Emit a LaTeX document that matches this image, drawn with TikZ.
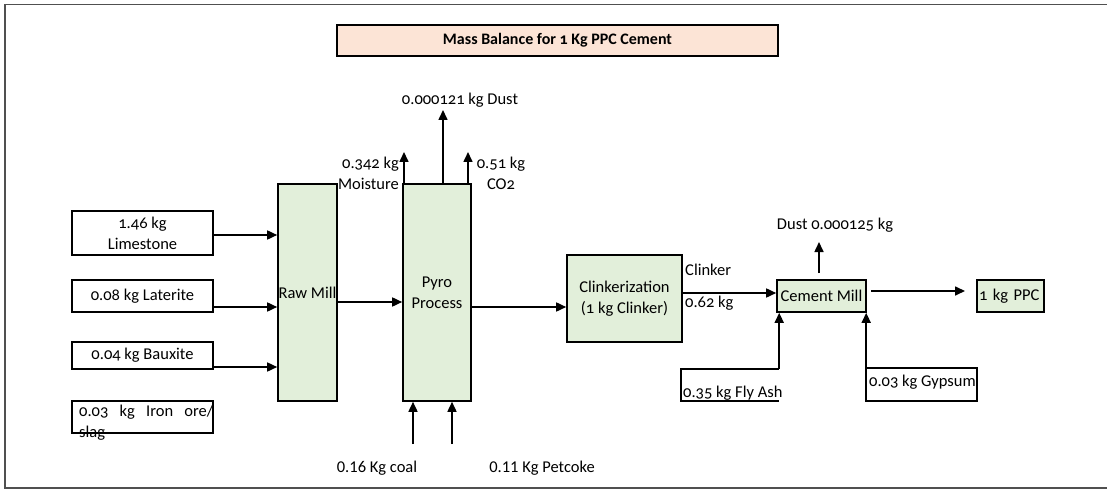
\documentclass[tikz,border=0pt]{standalone}
\usepackage{fontspec}
\setmainfont{Carlito}[Numbers=OldStyle]
\newfontfamily\lin{Carlito}
\usetikzlibrary{arrows.meta,calc}
\definecolor{procgreen}{RGB}{226,239,218}
\definecolor{titlepeach}{RGB}{252,228,214}
\definecolor{framegray}{RGB}{80,80,80}
\tikzset{
  box/.style={draw=black, line width=1.6pt, inner sep=0pt, fill=white},
  proc/.style={box, fill=procgreen, align=center},
  arr/.style={line width=1.6pt, -{Triangle[length=10pt,width=9pt]}},
  lbl/.style={inner sep=0pt},
}
\begin{document}
\begin{tikzpicture}[x=1pt,y=-1pt,font=\fontsize{16.5}{21}\selectfont]
\useasboundingbox (0,0) rectangle (1107,489);
% frame
\draw[framegray, line width=1.4pt] (1110,4.5) -- (5,4.5) -- (5,488) -- (1110,488);
% title
\node[box, fill=titlepeach, minimum width=441pt, minimum height=31pt, font=\fontsize{16}{20}\bfseries\selectfont] (title) at (557.5,40.5) {Mass Balance for 1 Kg PPC Cement};
% inputs
\node[box, minimum width=141pt, minimum height=44pt, align=center] (lime) at (142.5,233) {1.46 kg\\Limestone};
\node[box, minimum width=141pt, minimum height=32pt] (lat) at (142.5,296) {0.08 kg Laterite};
\node[box, minimum width=141pt, minimum height=27pt] (baux) at (142.5,355.5) {0.04 kg Bauxite};
\node[box, minimum width=141pt, minimum height=32pt] (iron) at (142.5,417) {};
\node[lbl, anchor=north west, align=left] (irontxt) at (79,405) {\makebox[134pt][s]{0.03 kg Iron ore/}\\slag};
% processes
\node[proc, minimum width=59pt, minimum height=217pt] (raw) at (307.5,292.5) {Raw Mill};
\node[proc, minimum width=68pt, minimum height=217pt] (pyro) at (437,292.5) {Pyro\\Process};
\node[proc, minimum width=115pt, minimum height=87pt] (clink) at (624.5,298.5) {Clinkerization\\(1 kg Clinker)};
\node[proc, minimum width=89pt, minimum height=32pt] (cm) at (821.5,296) {Cement Mill};
\node[box, fill=procgreen, minimum width=67pt, minimum height=32pt, text width=63pt, inner xsep=2pt, align=left] (ppc) at (1010.5,296) {1 kg PPC};
% fly ash and gypsum
\node[minimum width=98pt, minimum height=32pt, inner sep=0pt] (fly) at (730,385) {};
\draw[line width=1.6pt] (fly.north east) -- (fly.north west) -- (fly.south west) -- (fly.south east);
\node[lbl, anchor=base west] (flytxt) at (683,397) {0.35 kg Fly Ash};
\node[box, minimum width=111pt, minimum height=33pt] (gyp) at (921.5,384.5) {};
\node[lbl, anchor=west] (gyptxt) at (869,382) {0.03 kg Gypsum};
% input arrows to raw mill
\draw[arr] (lime.east |- 0,235) -- (raw.west |- 0,235);
\draw[arr] (lat.east |- 0,307) -- (raw.west |- 0,307);
\draw[arr] (baux.east |- 0,367) -- (raw.west |- 0,367);
% main line
\draw[arr] (raw.east |- 0,302) -- (pyro.west |- 0,302);
\draw[arr] (pyro.east |- 0,307) -- (clink.west |- 0,307);
\draw[arr] (clink.east |- 0,293) -- (cm.west |- 0,293);
\coordinate (ppcstart) at (871,291);
\coordinate (ppcend) at (965,291);
\draw[arr] (ppcstart) -- (ppcend);
% outputs of pyro
\coordinate (moistTop) at (404,152);
\coordinate (dustTop) at (443,110);
\coordinate (co2Top) at (468,152);
\draw[arr] (pyro.north -| moistTop) -- (moistTop);
\draw[arr] (pyro.north -| dustTop) -- (dustTop);
\draw[arr] (pyro.north -| co2Top) -- (co2Top);
\node[lbl] (dustlbl) at (460,100) {0.000121 kg Dust};
\node[lbl, anchor=east, align=right] (moistlbl) at (399,173) {0.342 kg\\Moisture};
\node[lbl, align=center] (co2lbl) at (501,173) {0.51 kg\\CO2};
% fuel inputs
\coordinate (coalBot) at (413,444);
\coordinate (petBot) at (452,444);
\draw[arr] (coalBot) -- (pyro.south -| coalBot);
\draw[arr] (petBot) -- (pyro.south -| petBot);
\node[lbl, font=\fontsize{16.5}{21}\lin] (coallbl) at (377,468) {0.16 Kg coal};
\node[lbl, font=\fontsize{16.5}{21}\lin] (petlbl) at (542,468) {0.11 Kg Petcoke};
% clinker labels
\node[lbl, anchor=west] (clklbl) at (685,270) {Clinker};
\node[lbl, anchor=west] (clkkg) at (685,303) {0.62 kg};
% cement mill
\coordinate (cmDustBot) at (819,273);
\coordinate (cmDustTop) at (819,242);
\draw[arr] (cmDustBot) -- (cmDustTop);
\node[lbl] (cmdust) at (835,225) {Dust 0.000125 kg};
\draw[arr] (fly.north east) -- (cm.south -| fly.north east);
\draw[arr] (gyp.north west) ++(1,0) coordinate (gypTop) -- (cm.south -| gypTop);
\end{tikzpicture}
\end{document}
